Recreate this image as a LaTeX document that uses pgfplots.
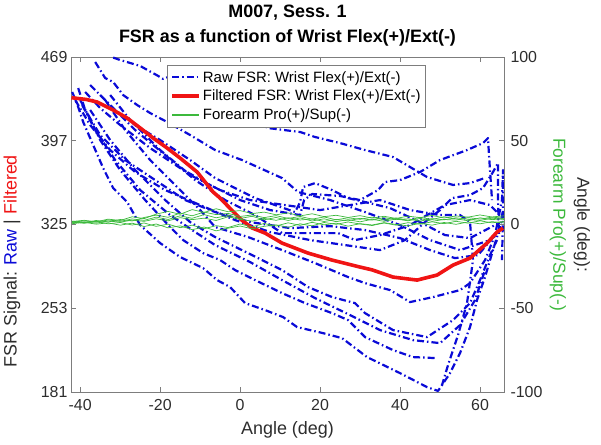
\documentclass[border=0pt]{standalone}
\usepackage{fontspec}
\setmainfont{Liberation Sans}
\usepackage{pgfplots}
\pgfplotsset{compat=1.18}

\definecolor{rawblue}{RGB}{10,10,215}
\definecolor{filtred}{RGB}{240,20,20}
\definecolor{progreen}{RGB}{60,185,60}
\definecolor{axgray}{RGB}{125,125,125}
\definecolor{labgray}{RGB}{45,45,45}

\pgfplotsset{
  common/.style={
    width=433bp, height=335bp, scale only axis,
    xmin=-42.3, xmax=66,
    axis line style={axgray, line width=0.6bp},
    tick style={axgray, line width=0.6bp},
    tick align=inside, major tick length=5bp,
    tick label style={text=labgray, font=\fontsize{16}{19}\selectfont},
    /pgf/number format/assume math mode=true,
  },
  raw/.style={rawblue, line width=2.2bp, dash pattern=on 7bp off 3bp on 1.5bp off 3bp, line join=round},
  pro/.style={progreen, line width=0.7bp, forget plot},
}

\begin{document}
\begin{tikzpicture}
\begin{axis}[common,
  ymin=181, ymax=469,
  ytick={181,253,325,397,469},
  xtick={-40,-20,...,60},
  ytick pos=left,
  xticklabel style={yshift=-4bp},
  title={M007, Sess. 1\\FSR as a function of Wrist Flex(+)/Ext(-)},
  title style={align=center, font=\bfseries\fontsize{18}{25}\selectfont, inner sep=0pt, yshift=5bp},
  xlabel={Angle (deg)},
  xlabel style={at={(axis description cs:0.5,-0.113)}, anchor=center, text=labgray, font=\fontsize{18}{22}\selectfont},
  ylabel={FSR Signal: \textcolor{rawblue}{Raw} | \textcolor{filtred}{Filtered}},
  ylabel style={at={(axis description cs:-0.136,0.39)}, anchor=center, text=labgray, font=\fontsize{18}{22}\selectfont},
  legend style={at={(axis description cs:0.222,0.976)}, anchor=north west,
    draw=axgray, fill=white, font=\fontsize{15}{18}\selectfont,
    inner xsep=3bp, inner ysep=4bp, row sep=2.5bp},
  legend cell align=left,
  legend image code/.code={\draw (0bp,0bp) -- (27bp,0bp);},
]
\coordinate (bl) at (rel axis cs:0,0);
\coordinate (tr) at (rel axis cs:1,1);

% raw FSR sweeps
\addplot[raw] coordinates {(-31.75,468.5) (-30,466.4) (-25,461.3) (-20.5,452.7) (-19.25,450.1) (-18,451.8) (-10,436.3) (0,420.8) (7,407.9) (15,404.5) (18.75,400.2) (25,395) (31.25,389) (38.25,383) (46.75,365.8) (53.25,359) (57.5,360.6) (61.25,365)};
\addlegendentry{Raw FSR: Wrist Flex(+)/Ext(-)}
\addplot[raw, forget plot] coordinates {(-36.25,464.7) (-35,457.8) (-33.75,450.9) (-31.75,447.5) (-29.25,436.3) (-25.75,427.7) (-22.5,420.8) (-18.25,413.1) (-12.5,401.9) (-6.25,389) (0.5,380.4) (10.5,364.9) (14.5,352.9) (22.5,346) (31.25,335.7) (40,324.5) (47.5,311.6) (55,303) (62.5,311.6) (65,320.2)};
\addplot[raw, forget plot] coordinates {(-35,436.3) (-31.25,423.4) (-26.25,410.5) (-20,397.6) (-12.5,380.4) (-6.25,364.9) (-1.25,356.3) (3.75,347.7) (8.75,341.7) (13.75,335.7) (15,344.3) (15.75,357.2) (18.75,360.6) (23,354.6) (27,347.7) (31.25,344.3) (37.5,339.1) (45,327.1) (51.25,315.9) (57.5,313.3) (63.75,324.5)};
\addplot[raw, forget plot] coordinates {(-38.75,438.9) (-35,425.1) (-30,410.5) (-22.5,390.7) (-15,373.5) (-7.5,358.9) (0,346) (7.5,337.4) (15,333.1) (16,346) (18,351.2) (25,349.5) (30,346) (34.5,354.6) (36.25,361.5) (40,363.2) (45,370.1) (50,380.4) (56.75,389) (60.75,395) (62,399.3) (62.25,384.7) (63,346)};
\addplot[raw, forget plot] coordinates {(-41.25,432) (-37.5,410.5) (-32.5,389) (-26.25,370.1) (-18.75,354.6) (-10,341.7) (-1.25,328.8) (7.5,318.5) (17.5,311.6) (26.25,307.3) (35,303) (41.25,311.6) (46.25,327.1) (50,337.4) (53,347.7) (57.5,350.3) (60.75,356.3) (63.25,370.1) (64.5,377.8) (64.5,346) (64.75,315.9)};
\addplot[raw, forget plot] coordinates {(-40,432) (-38,419.1) (-35,397.6) (-30,371.8) (-23.75,346) (-17.5,322.8) (-14.25,311.6) (-9.25,300.4) (-5,294.4) (-1.25,285.8) (3.75,277.2) (10.5,266) (16.25,257.4) (23,248.8) (27,242.8) (31.25,228.2) (38.25,217) (43.25,211) (49.25,210.1)};
\addplot[raw, forget plot] coordinates {(-33.75,432) (-28.75,406.2) (-22.5,380.4) (-15,354.6) (-10,337.4) (-6.25,322.8) (2,314.2) (10.5,303) (18.75,291.8) (27,279.8) (31.25,274.6) (37.5,268.6) (42.5,258.3) (48.25,262.6) (55,268.6) (57.5,274.6) (61.25,294.4) (63.75,315.9)};
\addplot[raw, forget plot] coordinates {(-37.5,423.4) (-32.5,397.6) (-26.25,371.8) (-18.75,346) (-12.5,327.1) (-6.25,314.2) (2,300.4) (10.5,285.8) (17,271.2) (23,262.6) (28.75,257.4) (31.25,248.8) (38.25,234.2) (46.75,228.2) (53.25,242.8) (57.5,257.4) (60,277.2) (62.5,298.7) (64.25,311.6)};
\addplot[raw, forget plot] coordinates {(-39.5,427.7) (-36.25,406.2) (-31.25,380.4) (-25,354.6) (-17.5,333.1) (-11.25,318.5) (-6.25,307.3) (2.5,292.7) (10.5,277.2) (18.75,261.7) (27.5,247.1) (35,234.2) (43.25,225.6) (50,223) (55,238.5) (58.75,260) (61.25,285.8)};
\addplot[raw, forget plot] coordinates {(-37.5,444.9) (-32.5,427.7) (-26.25,406.2) (-18.75,384.7) (-11.25,363.2) (-3.75,346) (3.75,333.1) (10.5,317.6) (18.75,317.6) (24.5,317.6) (28.75,311.6) (35,315.9) (42.5,324.5) (46.75,333.1) (51.25,341.7) (57.5,346) (62.5,341.7) (65,333.1)};
\addplot[raw, forget plot] coordinates {(-32.5,436.3) (-27.5,414.8) (-20,389) (-12.5,367.5) (-5,354.6) (2.5,346) (11.25,341.7) (20,337.4) (27.5,341.7) (35,346) (42.5,337.4) (50,333.1) (55,333.1) (57.5,327.1) (58.25,294.4) (56.75,257.4) (54.5,229.9) (52,204.1) (50.5,186.9)};
\addplot[raw, forget plot] coordinates {(-40.5,442.3) (-38.75,423.4) (-35,401.9) (-28.75,380.4) (-21.25,363.2) (-13.75,346) (-6.25,335.7) (2.5,327.1) (12.5,321.9) (22.5,323.6) (31.25,320.2) (40,313.3) (47.5,303) (53.75,296.1) (59.5,298.7) (63.75,315.9) (65.5,346) (65.75,371.8) (65.75,333.1) (65.5,294.4)};
\addplot[raw, forget plot] coordinates {(-42,438.9) (-40.75,428.6) (-39.25,413.1) (-36.75,393.3) (-34.25,373.5) (-31.75,356.3) (-28.25,344.3) (-25,324.5) (-20,309) (-15,297) (-9.25,287.5) (-5.75,277.2) (-2.5,271.2) (1.25,257.4) (6.25,251.4) (10.75,245.4) (14.25,236.8) (20.75,231.6) (25.5,227.3) (31.75,211) (40,197.2) (46.75,185.2) (49.5,181.9) (52.5,197.2) (55,214.4) (57.5,236.8) (59.25,260) (61.25,279.8) (63.25,303) (65,322.8) (65.75,337.4)};

% filtered FSR
\addplot[filtred, line width=3.6bp, line join=round] coordinates {(-42.2,434) (-38.5,432.5) (-35.75,430.3) (-31.75,423.4) (-28.25,416.5) (-25,408) (-21.75,399.3) (-18.25,390.7) (-15,382.1) (-10.75,370.1) (-6.75,352.9) (-5,347.7) (-2,337) (0.5,328.5) (3,322) (6.25,317.6) (10.5,309) (17,300.4) (23,294.4) (30,288.4) (33,286) (38.25,279.8) (44.25,277.2) (49.25,281.5) (53.25,290.1) (57.5,296.1) (61.75,309) (64.25,318.5) (65.75,321.9)};
\addlegendentry{Filtered FSR: Wrist Flex(+)/Ext(-)}
\addlegendimage{legend image code/.code={\draw[draw=progreen, line width=1.3bp] (0bp,0bp) -- (27bp,0bp);}}
\addlegendentry{Forearm Pro(+)/Sup(-)}
\end{axis}

\begin{axis}[common,
  ymin=-100, ymax=100,
  ytick={-100,-50,...,100},
  axis y line*=right, hide x axis,
  yticklabel style={xshift=3bp},
  ylabel={Angle (deg):\\\textcolor{progreen}{Forearm Pro(+)/Sup(-)}},
  ylabel style={align=center, rotate=180, at={(axis description cs:1.152,0.5)}, anchor=center, text=labgray, font=\fontsize{17.5}{24}\selectfont},
]
\addplot[pro] coordinates {(-42,1.0) (-39,1.6) (-36,0.8) (-33,2.1) (-30,1.4) (-27,2.6) (-24,1.9) (-21,3.4) (-18,2.2) (-15,4.1) (-12,2.9) (-9,3.8) (-6,2.4) (-3,4.6) (0,3.1) (3,2.0) (6,3.6) (9,2.5) (12,4.0) (15,2.7) (18,3.3) (21,1.8) (24,3.0) (27,2.2) (30,3.7) (33,2.6) (36,4.1) (39,2.9) (42,3.4) (45,2.0) (48,3.5) (51,2.8) (54,4.0) (57,3.1) (60,2.4) (63,3.8) (66,3.0)};
\addplot[pro] coordinates {(-42,2.0) (-39,1.1) (-36,2.4) (-33,1.5) (-30,3.0) (-27,2.1) (-24,4.2) (-21,5.6) (-18,4.3) (-15,6.8) (-12,5.2) (-9,7.4) (-6,5.9) (-3,6.6) (0,4.8) (3,5.7) (6,4.1) (9,5.3) (12,3.6) (15,4.8) (18,3.2) (21,4.5) (24,2.8) (27,4.0) (30,3.1) (33,4.4) (36,2.7) (39,3.9) (42,2.5) (45,4.3) (48,3.0) (51,4.6) (54,3.4) (57,2.2) (60,4.0) (63,2.9) (66,3.5)};
\addplot[pro] coordinates {(-42,0.5) (-39,1.3) (-36,0.2) (-33,1.0) (-30,-0.4) (-27,0.8) (-24,-1.2) (-21,0.3) (-18,-2.0) (-15,-0.8) (-12,-3.1) (-9,-1.5) (-6,-3.8) (-3,-2.2) (0,-0.9) (3,-2.6) (6,-1.1) (9,-0.2) (12,-1.7) (15,0.4) (18,-0.8) (21,1.2) (24,0.1) (27,1.5) (30,0.3) (33,-0.6) (36,0.9) (39,-0.4) (42,1.1) (45,0.2) (48,1.6) (51,0.5) (54,1.9) (57,0.8) (60,2.2) (63,1.0) (66,1.8)};
\addplot[pro] coordinates {(-42,1.8) (-39,2.5) (-36,1.6) (-33,3.2) (-30,2.4) (-27,4.6) (-24,3.5) (-21,6.2) (-18,7.8) (-15,6.1) (-12,8.9) (-9,7.2) (-6,9.4) (-3,7.6) (0,8.3) (3,6.5) (6,7.4) (9,5.8) (12,6.9) (15,5.1) (18,6.4) (21,4.7) (24,5.5) (27,4.2) (30,5.3) (33,3.8) (36,4.9) (39,3.6) (42,5.0) (45,4.1) (48,5.4) (51,3.9) (54,5.1) (57,4.4) (60,5.7) (63,4.5) (66,5.2)};
\addplot[pro] coordinates {(-42,1.5) (-39,0.7) (-36,1.9) (-33,0.4) (-30,1.2) (-27,-0.3) (-24,0.9) (-21,-1.1) (-18,0.2) (-15,-1.9) (-12,-0.4) (-9,-2.5) (-6,-0.7) (-3,-1.8) (0,0.3) (3,-1.4) (6,0.6) (9,-0.9) (12,1.0) (15,-0.5) (18,1.3) (21,-0.2) (24,0.8) (27,-1.0) (30,0.5) (33,-0.3) (36,1.1) (39,0.0) (42,-0.8) (45,0.7) (48,-0.4) (51,1.2) (54,0.1) (57,1.5) (60,0.4) (63,1.7) (66,0.9)};
\addplot[pro] coordinates {(-42,1.3) (-39,2.2) (-36,1.4) (-33,2.7) (-30,1.9) (-27,3.3) (-24,2.5) (-21,4.4) (-18,3.0) (-15,5.2) (-12,3.7) (-9,5.9) (-6,4.0) (-3,5.4) (0,3.6) (3,4.9) (6,2.8) (9,4.2) (12,2.4) (15,3.9) (18,2.1) (21,3.4) (24,1.7) (27,2.9) (30,1.6) (33,3.1) (36,1.9) (39,3.3) (42,2.2) (45,3.6) (48,1.9) (51,3.0) (54,2.6) (57,4.1) (60,3.2) (63,4.4) (66,3.7)};
\end{axis}
\pgfresetboundingbox
\path ([xshift=-71bp,yshift=-53bp]bl) rectangle ([xshift=97bp,yshift=57bp]tr);
\end{tikzpicture}
\end{document}
